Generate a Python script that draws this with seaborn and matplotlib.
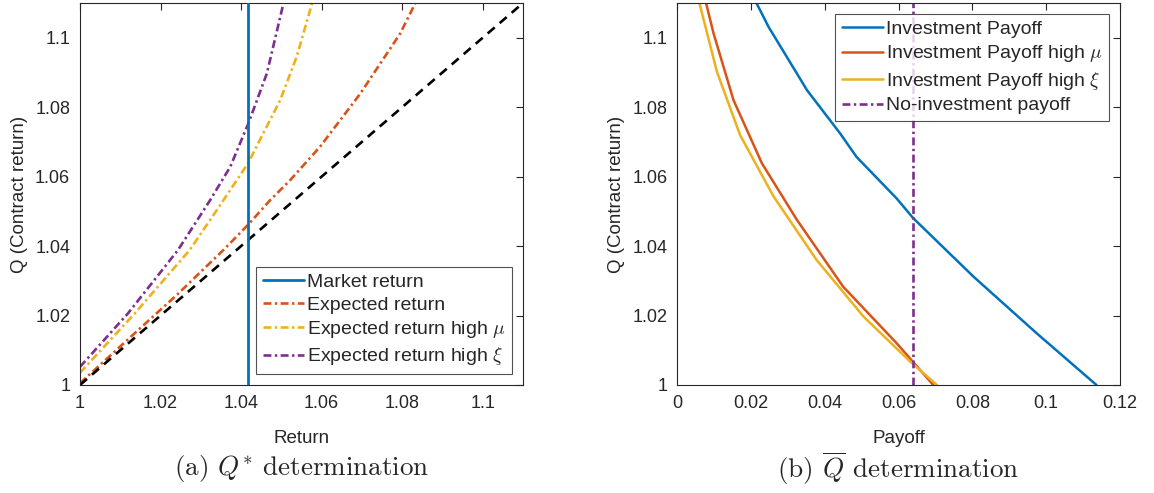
import numpy as np
import pandas as pd
import matplotlib
matplotlib.use("Agg")
import matplotlib.pyplot as plt
import seaborn as sns
from matplotlib.ticker import MultipleLocator, FuncFormatter

# Panel (a): Q* determination
identity_r = [1.0, 1.11]
identity_q = [1.0, 1.11]
market_return = 1.0418

exp_r = [1.0, 1.0152, 1.0243, 1.0359, 1.0418, 1.0472, 1.0522, 1.0596, 1.0696, 1.0795, 1.0832]
exp_q = [1.0005, 1.0166, 1.0262, 1.0392, 1.0462, 1.0532, 1.0590, 1.0686, 1.0839, 1.1012, 1.1098]

mu_r = [1.0, 1.0136, 1.0272, 1.0340, 1.0417, 1.0497, 1.0538, 1.0576]
mu_q = [1.0035, 1.0206, 1.0388, 1.0504, 1.0638, 1.0820, 1.0945, 1.1098]

xi_r = [1.0, 1.0119, 1.0243, 1.0323, 1.0373, 1.0418, 1.0464, 1.0505]
xi_q = [1.0052, 1.0206, 1.0388, 1.0532, 1.0628, 1.0753, 1.0897, 1.1098]

# Panel (b): Q-bar determination
inv_p = [0.0216, 0.0248, 0.0352, 0.0442, 0.0486, 0.0595, 0.0640, 0.0803, 0.0974, 0.1136]
inv_q = [1.1098, 1.1031, 1.0849, 1.0724, 1.0657, 1.0537, 1.0480, 1.0312, 1.0149, 1.0]

mu_p = [0.0079, 0.0099, 0.0153, 0.0230, 0.0325, 0.0450, 0.0595, 0.0694]
mu_pq = [1.1098, 1.1012, 1.0820, 1.0638, 1.0475, 1.0283, 1.0120, 1.0]

xi_p = [0.0061, 0.0108, 0.0171, 0.0262, 0.0378, 0.0505, 0.0632, 0.0704]
xi_pq = [1.1098, 1.0902, 1.0719, 1.0542, 1.0360, 1.0197, 1.0067, 1.0]

no_invest_payoff = 0.0638

BLUE = "#0072BD"
ORANGE = "#D95319"
YELLOW = "#EDB120"
PURPLE = "#7E2F8E"
AX_COLOR = "#262626"
DASHDOT = (0, (3, 1.3, 0.9, 1.3))

sns.set_style("white")
plt.rcParams["font.family"] = ["Liberation Sans", "DejaVu Sans"]
plt.rcParams["mathtext.fontset"] = "cm"


def style_axes(ax, xlim, xstep):
    ax.set_xlim(*xlim)
    ax.set_ylim(1.0, 1.11)
    ax.xaxis.set_major_locator(MultipleLocator(xstep))
    ax.yaxis.set_major_locator(MultipleLocator(0.02))
    fmt = FuncFormatter(lambda v, p: f"{v:g}")
    ax.xaxis.set_major_formatter(fmt)
    ax.yaxis.set_major_formatter(fmt)
    ax.tick_params(direction="in", length=5, width=0.8, top=True, right=True,
                   labelsize=13, colors=AX_COLOR, pad=7)
    for s in ax.spines.values():
        s.set_color(AX_COLOR)
        s.set_linewidth(0.8)
    ax.set_ylabel("Q (Contract return)", fontsize=13.5, color=AX_COLOR, labelpad=5)


def make_legend(ax, handles, labels, loc):
    leg = ax.legend(handles, labels, loc=loc, fontsize=14, frameon=True,
                    fancybox=False, edgecolor=AX_COLOR, handlelength=2.1,
                    handletextpad=0.15, borderpad=0.35, labelspacing=0.27,
                    borderaxespad=0.55)
    leg.get_frame().set_linewidth(0.8)
    return leg


fig = plt.figure(figsize=(11.54, 4.93), dpi=100)
ax1 = fig.add_axes([0.0693, 0.2191, 0.3839, 0.7748])
ax2 = fig.add_axes([0.5867, 0.2191, 0.3839, 0.7748])

# ---- left panel
ax1.axvline(market_return, color=BLUE, lw=2, label="Market return", zorder=3)
sns.lineplot(x=exp_r, y=exp_q, ax=ax1, color=ORANGE, lw=1.9, linestyle=DASHDOT,
             sort=False, estimator=None, label="Expected return")
sns.lineplot(x=mu_r, y=mu_q, ax=ax1, color=YELLOW, lw=1.9, linestyle=DASHDOT,
             sort=False, estimator=None, label=r"Expected return high $\mu$")
sns.lineplot(x=xi_r, y=xi_q, ax=ax1, color=PURPLE, lw=1.9, linestyle=DASHDOT,
             sort=False, estimator=None, label=r"Expected return high $\xi$")
sns.lineplot(x=identity_r, y=identity_q, ax=ax1, color="black", lw=1.9,
             linestyle=(0, (3.5, 2.5)), sort=False, estimator=None, legend=False)
style_axes(ax1, (1.0, 1.11), 0.02)
ax1.set_xlabel("Return", fontsize=13.5, color=AX_COLOR, labelpad=13)
h, l = ax1.get_legend_handles_labels()
make_legend(ax1, h[:4], l[:4], "lower right")

# ---- right panel
sns.lineplot(x=inv_p, y=inv_q, ax=ax2, color=BLUE, lw=1.8, sort=False,
             estimator=None, label="Investment Payoff")
sns.lineplot(x=mu_p, y=mu_pq, ax=ax2, color=ORANGE, lw=1.8, sort=False,
             estimator=None, label=r"Investment Payoff high $\mu$")
sns.lineplot(x=xi_p, y=xi_pq, ax=ax2, color=YELLOW, lw=1.8, sort=False,
             estimator=None, label=r"Investment Payoff high $\xi$")
ax2.axvline(no_invest_payoff, color=PURPLE, lw=1.9, linestyle=DASHDOT,
            label="No-investment payoff")
style_axes(ax2, (0.0, 0.12), 0.02)
ax2.set_xlabel("Payoff", fontsize=13.5, color=AX_COLOR, labelpad=13)
h2, l2 = ax2.get_legend_handles_labels()
make_legend(ax2, h2, l2, "upper right")

# captions
fig.text(0.0693 + 0.3839 / 2, 0.05, r"(a) $Q^{*}$ determination",
         ha="center", va="center", fontsize=19.5, family="cmr10")
fig.text(0.5867 + 0.3839 / 2, 0.05, r"(b) $\overline{Q}$ determination",
         ha="center", va="center", fontsize=19.5, family="cmr10")

fig.savefig("out.png", dpi=100)
